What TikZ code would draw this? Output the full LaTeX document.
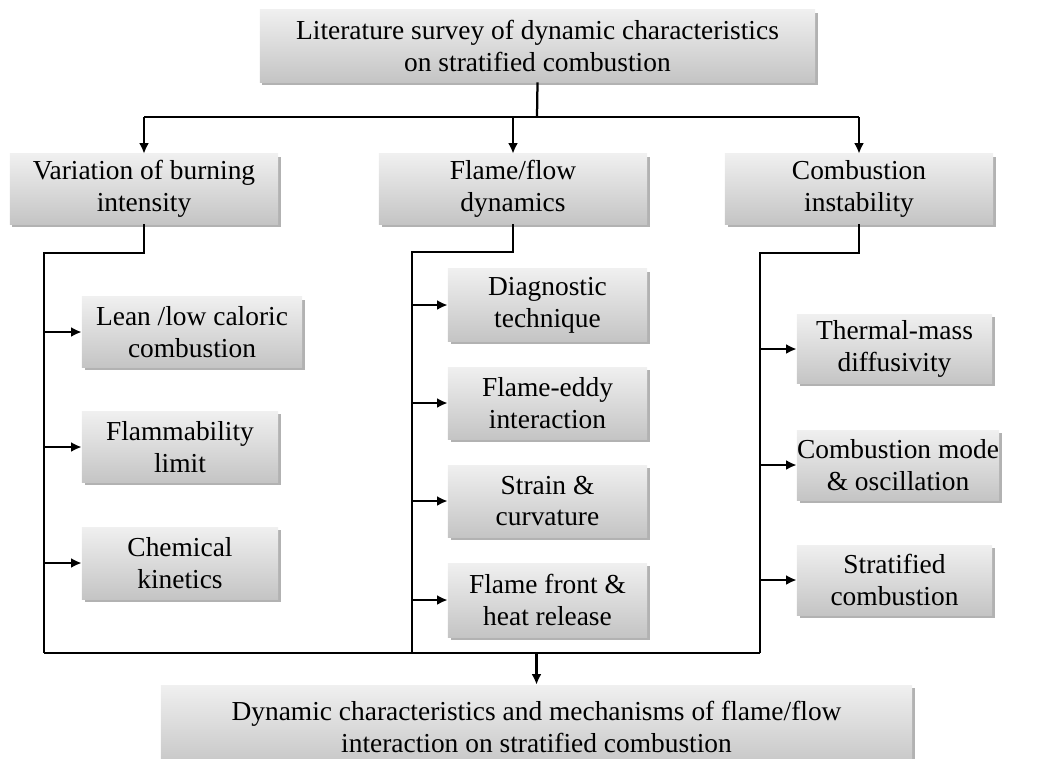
\documentclass[tikz,border=0pt]{standalone}
\usepackage{fontspec}
\setmainfont{Liberation Serif}
\usetikzlibrary{arrows.meta,shadows}

\tikzset{
  box/.style={draw=none, top color=gray!12, bottom color=gray!46,
    drop shadow={shadow xshift=1.8pt, shadow yshift=-1.8pt, fill=black!60, opacity=0.5},
    align=center, inner sep=0pt, font=\fontsize{19.5}{22.7}\selectfont},
  link/.style={line width=1.6pt},
  arr/.style={link, -{Latex[length=7.5pt,width=7pt]}}
}

\begin{document}
\begin{tikzpicture}[x=0.025cm, y=-0.025cm]
    \useasboundingbox (0,0) rectangle (1051,758);

    % Top and bottom boxes
    \node[box, minimum width=13.875cm, minimum height=1.8cm] (top) at (537.5,46)
        {Literature survey of dynamic characteristics\\on stratified combustion};
    \node[box, minimum width=18.775cm, minimum height=2.1cm] (out) at (536.5,727)
        {Dynamic characteristics and mechanisms of flame/flow\\interaction on stratified combustion};

    % Three topics
    \node[box, minimum width=6.7cm, minimum height=1.75cm] (var) at (144,189)
        {Variation of burning\\intensity};
    \node[box, minimum width=6.7cm, minimum height=1.75cm] (flow) at (513,189)
        {Flame/flow\\dynamics};
    \node[box, minimum width=6.7cm, minimum height=1.75cm] (comb) at (859,189)
        {Combustion\\instability};

    % Left column
    \node[box, minimum width=5.5cm, minimum height=1.75cm] (lean) at (192,332)
        {Lean /low caloric\\combustion};
    \node[box, minimum width=4.9cm, minimum height=1.78cm] (flam) at (180,447)
        {Flammability\\limit};
    \node[box, minimum width=4.9cm, minimum height=1.8cm] (chem) at (180,563)
        {Chemical\\kinetics};

    % Middle column
    \node[box, minimum width=4.975cm, minimum height=1.8cm] (diag) at (547.5,305)
        {Diagnostic\\technique};
    \node[box, minimum width=4.975cm, minimum height=1.8cm] (eddy) at (547.5,403)
        {Flame-eddy\\interaction};
    \node[box, minimum width=4.975cm, minimum height=1.8cm] (strain) at (547.5,501)
        {Strain \&\\curvature};
    \node[box, minimum width=4.975cm, minimum height=1.85cm] (front) at (547.5,600)
        {Flame front \&\\heat release};

    % Right column
    \node[box, minimum width=4.875cm, minimum height=1.72cm] (therm) at (894.5,349)
        {Thermal-mass\\diffusivity};
    \node[box, minimum width=5.05cm, minimum height=1.75cm] (mode) at (898,465)
        {Combustion mode\\\& oscillation};
    \node[box, minimum width=4.875cm, minimum height=1.75cm] (strat) at (894.5,580)
        {Stratified\\combustion};

    % Trunk points
    \coordinate (hub) at (537,117);
    \coordinate (lt) at (44,253);
    \coordinate (lb) at (44,653);
    \coordinate (mt) at (412,252);
    \coordinate (mb) at (412,653);
    \coordinate (rt) at (760,253);
    \coordinate (rb) at (760,653);

    % Top split
    \draw[link] (top.south) -- (hub);
    \draw[link] (var.north |- hub) -- (comb.north |- hub);
    \foreach \n in {var, flow, comb}
        \draw[arr] (\n.north |- hub) -- (\n.north);

    % Branches
    \draw[link] (var.south) |- (lt) -- (lb);
    \draw[link] (flow.south) |- (mt) -- (mb);
    \draw[link] (comb.south) |- (rt) -- (rb);
    \foreach \n in {lean, flam, chem}
        \draw[arr] (lt |- \n.west) -- (\n.west);
    \foreach \n in {diag, eddy, strain, front}
        \draw[arr] (mt |- \n.west) -- (\n.west);
    \foreach \n in {therm, mode, strat}
        \draw[arr] (rt |- \n.west) -- (\n.west);

    % Join
    \draw[link] (lb) -- (rb);
    \draw[arr] (out.north |- lb) -- (out.north);
\end{tikzpicture}
\end{document}
